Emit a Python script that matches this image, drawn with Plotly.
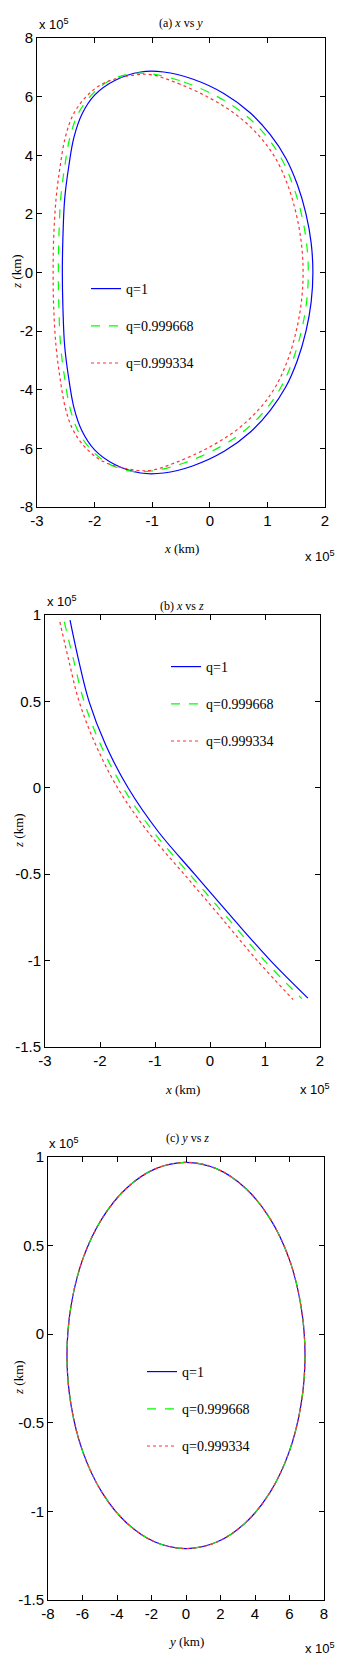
import plotly.graph_objects as go

# ---------------- data (units of 1e5 km) ----------------
# Panel (a)
a_x_q1 = [-0.8, -0.3, 0.25, 0.7, 1.05, 1.32, 1.52, 1.67, 1.76, 1.79, 1.76, 1.67, 1.52, 1.32, 1.05, 0.7, 0.25, -0.3, -0.8,
          -1.2, -1.65, -2.0, -2.22, -2.36, -2.45, -2.52, -2.55, -2.56, -2.55, -2.52, -2.45, -2.36, -2.22, -2.0, -1.65, -1.2, -0.8]
a_y_q1 = [6.84, 6.6, 6.1, 5.45, 4.7, 3.9, 3.0, 2.0, 1.0, 0.0, -1.0, -2.0, -3.0, -3.9, -4.7, -5.45, -6.1, -6.6, -6.84,
          -6.84, -6.55, -6.05, -5.4, -4.6, -3.6, -2.5, -1.2, 0.0, 1.2, 2.5, 3.6, 4.6, 5.4, 6.05, 6.55, 6.84, 6.84]
a_x_q2 = [-1.0, -0.45, 0.13, 0.6, 0.96, 1.24, 1.44, 1.59, 1.68, 1.71, 1.68, 1.59, 1.44, 1.24, 0.96, 0.6, 0.13, -0.45, -1.0,
          -1.4, -1.78, -2.08, -2.29, -2.43, -2.52, -2.59, -2.62, -2.63, -2.62, -2.59, -2.52, -2.43, -2.29, -2.08, -1.78, -1.4, -1.0]
a_y_q2 = [6.77, 6.5, 6.0, 5.4, 4.7, 3.9, 3.0, 2.0, 1.0, 0.0, -1.0, -2.0, -3.0, -3.9, -4.7, -5.4, -6.0, -6.5, -6.77,
          -6.77, -6.5, -6.0, -5.4, -4.6, -3.6, -2.5, -1.2, 0.0, 1.2, 2.5, 3.6, 4.6, 5.4, 6.0, 6.5, 6.77, 6.77]
a_x_q3 = [-1.0, -0.55, 0.0, 0.48, 0.86, 1.14, 1.35, 1.5, 1.59, 1.62, 1.59, 1.5, 1.35, 1.14, 0.86, 0.48, 0.0, -0.55, -1.0,
          -1.3, -1.85, -2.17, -2.38, -2.51, -2.6, -2.67, -2.71, -2.72, -2.71, -2.67, -2.6, -2.51, -2.38, -2.17, -1.85, -1.3, -1.0]
a_y_q3 = [6.74, 6.45, 5.95, 5.35, 4.65, 3.9, 3.0, 2.0, 1.0, 0.0, -1.0, -2.0, -3.0, -3.9, -4.65, -5.35, -5.95, -6.45, -6.74,
          -6.74, -6.45, -5.95, -5.35, -4.6, -3.6, -2.5, -1.2, 0.0, 1.2, 2.5, 3.6, 4.6, 5.35, 5.95, 6.45, 6.74, 6.74]

# Panel (b): x vs z
b_x_q1 = [-2.545, -2.39, -2.2, -1.9, -1.49, -0.95, -0.28, 0.40, 1.10, 1.78]
b_z_q1 = [0.97, 0.74, 0.5, 0.25, 0.0, -0.25, -0.5, -0.75, -1.0, -1.217]
b_x_q2 = [-2.65, -2.48, -2.29, -1.99, -1.58, -1.04, -0.37, 0.31, 0.99, 1.67]
b_z_q2 = [0.96, 0.74, 0.5, 0.25, 0.0, -0.25, -0.5, -0.75, -1.0, -1.22]
b_x_q3 = [-2.73, -2.57, -2.38, -2.08, -1.68, -1.14, -0.47, 0.20, 0.86, 1.51]
b_z_q3 = [0.96, 0.74, 0.5, 0.25, 0.0, -0.25, -0.5, -0.75, -1.0, -1.225]

# Panel (c): y vs z (the three curves coincide)
c_y = [6.9, 6.66, 5.98, 4.88, 3.45, 1.79, 0.0, -1.79, -3.45, -4.88, -5.98, -6.66, -6.9,
       -6.66, -5.98, -4.88, -3.45, -1.79, 0.0, 1.79, 3.45, 4.88, 5.98, 6.66, 6.9]
c_z = [-0.12, 0.162, 0.425, 0.651, 0.824, 0.933, 0.97, 0.933, 0.824, 0.651, 0.425, 0.162, -0.12,
       -0.402, -0.664, -0.891, -1.064, -1.173, -1.21, -1.173, -1.064, -0.891, -0.664, -0.402, -0.12]

labels = ["q=1", "q=0.999668", "q=0.999334"]
colors = ["#0000ff", "#00ff00", "#ff3333"]
dashes = ["solid", "dash", "dot"]

W, H = 356, 1672

def px2x(p):
    return p / W

def px2y(p):
    return 1 - p / H

fig = go.Figure()

panels = [
    dict(xs=[a_x_q1, a_x_q2, a_x_q3], ys=[a_y_q1, a_y_q2, a_y_q3], xa="x", ya="y", leg="legend"),
    dict(xs=[b_x_q1, b_x_q2, b_x_q3], ys=[b_z_q1, b_z_q2, b_z_q3], xa="x2", ya="y2", leg="legend2"),
    dict(xs=[c_y, c_y, c_y], ys=[c_z, c_z, c_z], xa="x3", ya="y3", leg="legend3"),
]
for pi, p in enumerate(panels):
    for i in range(3):
        fig.add_trace(go.Scatter(
            x=p["xs"][i], y=p["ys"][i], mode="lines", name=labels[i],
            line=dict(color=colors[i], dash=dashes[i], width=1.2, shape="spline", smoothing=1.0),
            xaxis=p["xa"], yaxis=p["ya"], legend=p["leg"], legendgroup=f"p{pi}g{i}",
        ))

tickfont = dict(family="Liberation Sans Narrow, Liberation Sans, Arial", size=15, color="black")
axis_common = dict(showgrid=False, zeroline=False, showline=True, linecolor="black", linewidth=1,
                   mirror="ticks", ticks="inside", ticklen=5, tickcolor="black", tickfont=tickfont,
                   automargin=False, fixedrange=True)

boxes = [(37, 325, 38, 507), (45, 320, 615, 1047), (48, 324, 1157, 1600)]
xranges = [[-3, 2], [-3, 2], [-8, 8]]
yranges = [[-8, 8], [-1.5, 1], [-1.5, 1]]
xticks = [list(range(-3, 3)), list(range(-3, 3)), list(range(-8, 9, 2))]
yticks = [list(range(-8, 9, 2)), [-1.5, -1, -0.5, 0, 0.5, 1], [-1.5, -1, -0.5, 0, 0.5, 1]]

layout = dict(
    width=W, height=H, margin=dict(l=0, r=0, t=0, b=0, autoexpand=False),
    paper_bgcolor="white", plot_bgcolor="white", showlegend=True,
)
for k in range(3):
    l, r, t, b = boxes[k]
    sx = "" if k == 0 else str(k + 1)
    layout["xaxis" + sx] = dict(axis_common, domain=[px2x(l), px2x(r)], range=xranges[k],
                                tickvals=xticks[k], ticktext=[f"{v:g}" for v in xticks[k]],
                                anchor="y" + sx)
    layout["yaxis" + sx] = dict(axis_common, domain=[px2y(b), px2y(t)], range=yranges[k],
                                tickvals=yticks[k], ticktext=[f"{v:g}" for v in yticks[k]],
                                anchor="x" + sx)
fig.update_layout(**layout)

legfont = dict(family="Liberation Serif, Times New Roman", size=14, color="black")
leg_pos = [(86, 273), (166, 651), (142, 1356)]
for k, (lx, ly) in enumerate(leg_pos):
    name = "legend" if k == 0 else f"legend{k+1}"
    fig.update_layout(**{name: dict(x=px2x(lx), y=px2y(ly), xanchor="left", yanchor="top",
                                    bgcolor="rgba(0,0,0,0)", borderwidth=0, font=legfont,
                                    tracegroupgap=16, itemwidth=30)})

serif = "Liberation Serif, Times New Roman"
sans = "Liberation Sans Narrow, Liberation Sans, Arial"
ann = []
titles = [("(a) <i>x</i> vs <i>y</i>", 181, 23), ("(b) <i>x</i> vs <i>z</i>", 182, 606),
          ("(c) <i>y</i> vs <i>z</i>", 187, 1138)]
for txt, x, y in titles:
    ann.append(dict(text=txt, x=px2x(x), y=px2y(y), xref="paper", yref="paper", showarrow=False,
                    font=dict(family=serif, size=12, color="black"), xanchor="center", yanchor="middle"))
xlabels = [("<i>x</i> (km)", 181, 548), ("<i>x</i> (km)", 182, 1089), ("<i>y</i> (km)", 186, 1641)]
for txt, x, y in xlabels:
    ann.append(dict(text=txt, x=px2x(x), y=px2y(y), xref="paper", yref="paper", showarrow=False,
                    font=dict(family=serif, size=13, color="black"), xanchor="center", yanchor="middle"))
ylabels = [("<i>z</i> (km)", 17, 272), ("<i>z</i> (km)", 18, 831), ("<i>z</i> (km)", 18, 1378)]
for txt, x, y in ylabels:
    ann.append(dict(text=txt, x=px2x(x), y=px2y(y), xref="paper", yref="paper", showarrow=False,
                    textangle=-90, font=dict(family=serif, size=13, color="black"),
                    xanchor="center", yanchor="middle"))
mult = [(37, 24), (303, 556), (45, 601), (298, 1089), (47, 1143), (303, 1648)]
for x, y in mult:
    ann.append(dict(text="x 10<sup>5</sup>", x=px2x(x), y=px2y(y), xref="paper", yref="paper",
                    showarrow=False, font=dict(family=sans, size=13, color="black"),
                    xanchor="left", yanchor="middle"))
fig.update_layout(annotations=ann)

fig.write_html("out.html", config={"displayModeBar": False},
               post_script="document.body.style.margin='0';")
